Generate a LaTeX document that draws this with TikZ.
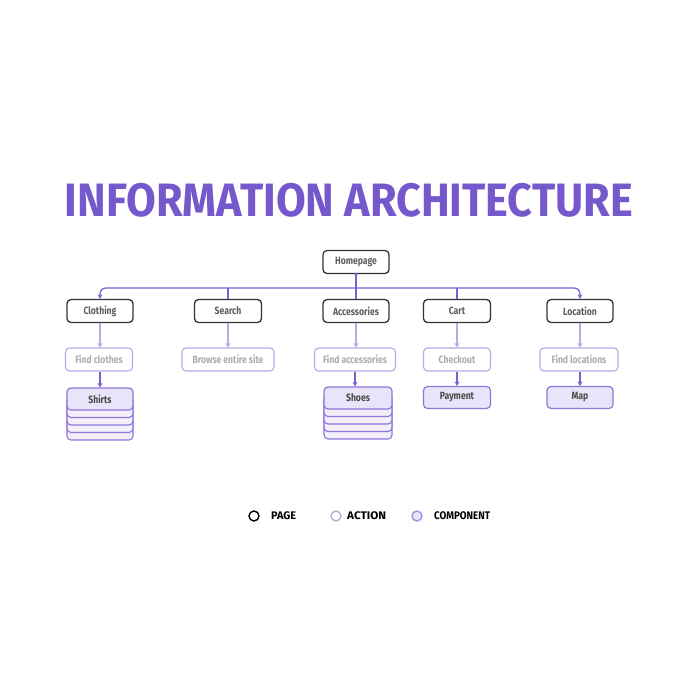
\documentclass[tikz,border=0pt]{standalone}
\usepackage{fontspec}
\setmainfont{Fira Sans}
\usetikzlibrary{arrows.meta,positioning}
\definecolor{ttl}{HTML}{7559CC}
\definecolor{tree}{HTML}{7A5FD0}
\definecolor{pageb}{HTML}{333333}
\definecolor{paget}{HTML}{5E5E5E}
\definecolor{actb}{HTML}{B8A9E8}
\definecolor{actt}{HTML}{ADADAD}
\definecolor{compb}{HTML}{8E76DA}
\definecolor{compf}{HTML}{E9E4F9}
\definecolor{compt}{HTML}{4A4A4A}
\newcommand{\fitbox}[3]{\resizebox*{#1}{#2}{#3}}
\newcommand{\lbl}[1]{\scalebox{0.82}[1]{#1}}
\begin{document}
\begin{tikzpicture}[x=1pt,y=-1pt,
  base/.style={rounded corners=4pt,minimum height=23pt,inner sep=0pt,
    font=\fontsize{10.5pt}{11pt}\selectfont\bfseries},
  pagebox/.style={base,draw=pageb,line width=1.3pt,fill=white,text=paget},
  actbox/.style={base,draw=actb,line width=1.1pt,fill=white,text=actt},
  compbox/.style={base,draw=compb,line width=1.2pt,fill=compf,text=compt,minimum height=22pt},
  layer/.style={rounded corners=4pt,draw=compb,line width=1.1pt,fill=compf!60!white},
  treeline/.style={draw=tree,line width=1.3pt},
  tip/.style={-{Stealth[length=4.5pt,width=5pt]}},
  actarrow/.style={draw=actb,line width=1.1pt,tip},
  comparrow/.style={draw=tree,line width=1.3pt,tip},
  legtext/.style={anchor=west,inner sep=0pt}
]
\useasboundingbox (0,0) rectangle (700,700);
\fill[white] (0,0) rectangle (700,700);

% title
\node[inner sep=0pt,text=ttl] (title) at (349,200)
  {\fitbox{568pt}{34pt}{\fontsize{40pt}{40pt}\selectfont\bfseries INFORMATION ARCHITECTURE}};

% pages
\node[pagebox,minimum width=66pt] (home) at (356,262) {\lbl{Homepage}};
\node[pagebox,minimum width=66pt] (clothing) at (100,311) {\lbl{Clothing}};
\node[pagebox,minimum width=67pt] (search) at (228,311) {\lbl{Search}};
\node[pagebox,minimum width=66pt] (access) at (356,311) {\lbl{Accessories}};
\node[pagebox,minimum width=67pt] (cart) at (457,311) {\lbl{Cart}};
\node[pagebox,minimum width=66pt] (location) at (580,311) {\lbl{Location}};

% actions
\node[actbox,minimum width=67pt] (findclothes) at (99,359.5) {\lbl{Find clothes}};
\node[actbox,minimum width=92pt] (browse) at (228,359.5) {\lbl{Browse entire site}};
\node[actbox,minimum width=81pt] (findacc) at (355,359.5) {\lbl{Find accessories}};
\node[actbox,minimum width=67pt] (checkout) at (457,359.5) {\lbl{Checkout}};
\node[actbox,minimum width=78pt] (findloc) at (579,359.5) {\lbl{Find locations}};

% component stacks (layers behind)
\foreach \i in {4,3,2,1}{
  \draw[layer] (67,{388+7.5*\i}) rectangle (133,{410+7.5*\i});
  \draw[layer] (324,{387+7.5*\i}) rectangle (392,{409+7.5*\i});
}
\node[compbox,minimum width=66pt] (shirts) at (100,399) {\lbl{Shirts}};
\node[compbox,minimum width=68pt] (shoes) at (358,398) {\lbl{Shoes}};
\node[compbox,minimum width=67pt] (payment) at (457,397.5) {\lbl{Payment}};
\node[compbox,minimum width=66pt] (map) at (580,397.5) {\lbl{Map}};

% tree
\coordinate (bus) at (356,288);
\draw[treeline] (home.south) -- (access.north);
\draw[treeline,tip,rounded corners=6pt] (bus) -| (clothing.north);
\draw[treeline,tip,rounded corners=6pt] (bus) -| (location.north);
\draw[treeline] (search.north) -- (search.north |- bus);
\draw[treeline] (cart.north) -- (cart.north |- bus);
\fill[tree] (home.south) circle (1.6pt);

% page -> action
\draw[actarrow] (clothing.south) -- (clothing.south |- findclothes.north);
\draw[actarrow] (search.south) -- (browse.north);
\draw[actarrow] (access.south) -- (access.south |- findacc.north);
\draw[actarrow] (cart.south) -- (checkout.north);
\draw[actarrow] (location.south) -- (location.south |- findloc.north);

% action -> component
\draw[comparrow] (shirts.north |- findclothes.south) -- (shirts.north);
\draw[comparrow] (findacc.south) -- (findacc.south |- shoes.north);
\draw[comparrow] (checkout.south) -- (payment.north);
\draw[comparrow] (map.north |- findloc.south) -- (map.north);

% legend
\draw[draw=black,line width=1.4pt,fill=white] (254,516) circle (5pt) node[coordinate] (lp) {};
\draw[draw=actb,line width=1.4pt,fill=white] (336,516) circle (5pt) node[coordinate] (la) {};
\draw[draw=compb!80!white,line width=1.4pt,fill=compf] (417,516) circle (5pt) node[coordinate] (lc) {};
\node[legtext] (tpage) at (271,516) {\fitbox{25pt}{8pt}{\bfseries PAGE}};
\node[legtext] (taction) at (347,516) {\fitbox{39pt}{8pt}{\bfseries ACTION}};
\node[legtext] (tcomp) at (434,516) {\fitbox{56pt}{8pt}{\bfseries COMPONENT}};
\end{tikzpicture}
\end{document}
